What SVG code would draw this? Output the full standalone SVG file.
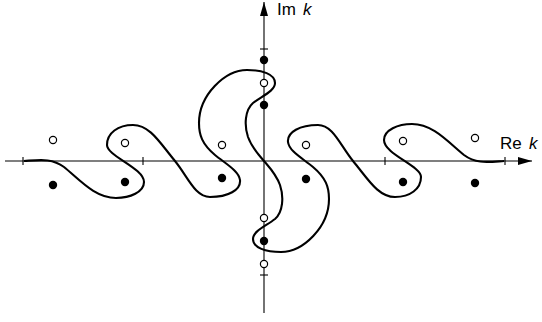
<svg xmlns="http://www.w3.org/2000/svg" width="542" height="322" viewBox="0 0 542 322">
<defs>
<marker id="arr" viewBox="0 0 14 8" refX="14" refY="4" markerWidth="14" markerHeight="8" markerUnits="userSpaceOnUse" orient="auto">
<path d="M0,0 L14,4 L0,8 Z" fill="#000"/>
</marker>
</defs>
<style>
.axis{stroke:#000;stroke-width:1.1;fill:none}
.tick{stroke:#000;stroke-width:1.1}
.curve{stroke:#000;stroke-width:2.1;fill:none;stroke-linejoin:round}
.open{fill:#fff;stroke:#000;stroke-width:1.2}
.filled{fill:#000}
.lbl{font-family:"Liberation Sans",Arial,sans-serif;font-size:17px;fill:#000}
.it{font-style:italic}
</style>
<rect width="542" height="322" fill="#fff"/>
<g id="axes">
<line class="axis" x1="5" y1="161" x2="532" y2="161" marker-end="url(#arr)"/>
<line class="axis" x1="264" y1="313" x2="264" y2="2" marker-end="url(#arr)"/>
<line class="tick" x1="23" y1="157" x2="23" y2="165"/>
<line class="tick" x1="143" y1="157" x2="143" y2="165"/>
<line class="tick" x1="385" y1="157" x2="385" y2="165"/>
<line class="tick" x1="505" y1="157" x2="505" y2="165"/>
<line class="tick" x1="260" y1="49" x2="268" y2="49"/>
<line class="tick" x1="260" y1="275" x2="268" y2="275"/>
<text class="lbl" x="277" y="15">Im <tspan class="it" x="303">k</tspan></text>
<text class="lbl" x="500" y="149">Re <tspan class="it" x="529">k</tspan></text>
</g>
<g id="connectors">
<path class="curve" d="M24 161 C40 160 52 158 64 167 C80 180 95 198 116 198 C130 198 144 192 144 182 C144 168 107 156 107 145 C107 133 118 125 133 125 C150 125 160 143 175 161 C188 177 195 197 210 197 C228 197 241 190 240 180 C239 171 226 164 215 155 C202 144 199 135 199 123 C199 95 225 70 247 70 C262 70 275 74 275 83 C275 91 262 96 253 103 C245 110 244 125 248 137 C252 148 258 154 264 161 C270 168 276 174 280 185 C284 197 283 212 275 219 C266 226 253 231 253 239 C253 248 266 252 281 252 C303 252 329 227 329 199 C329 187 326 178 313 167 C302 158 289 151 288 142 C287 132 300 125 318 125 C333 125 340 145 353 161 C368 179 378 197 395 197 C410 197 421 189 421 177 C421 166 384 154 384 140 C384 130 398 124 412 124 C433 124 448 142 464 155 C476 164 488 162 504 161"/>
</g>
<g id="poles">
<circle class="open" cx="53" cy="140" r="3.6"/>
<circle class="open" cx="125" cy="143" r="3.6"/>
<circle class="open" cx="222" cy="145" r="3.6"/>
<circle class="open" cx="306" cy="145" r="3.6"/>
<circle class="open" cx="403" cy="141" r="3.6"/>
<circle class="open" cx="475" cy="138" r="3.6"/>
<circle class="filled" cx="53" cy="185" r="4.2"/>
<circle class="filled" cx="125" cy="182" r="4.2"/>
<circle class="filled" cx="222" cy="178" r="4.2"/>
<circle class="filled" cx="306" cy="179" r="4.2"/>
<circle class="filled" cx="403" cy="182" r="4.2"/>
<circle class="filled" cx="475" cy="183" r="4.2"/>
<circle class="filled" cx="264" cy="60" r="4.2"/>
<circle class="open" cx="264" cy="83" r="3.6"/>
<circle class="filled" cx="264" cy="105" r="4.2"/>
<circle class="open" cx="264" cy="218" r="3.6"/>
<circle class="filled" cx="264" cy="241" r="4.2"/>
<circle class="open" cx="264" cy="264" r="3.6"/>
</g>
</svg>
